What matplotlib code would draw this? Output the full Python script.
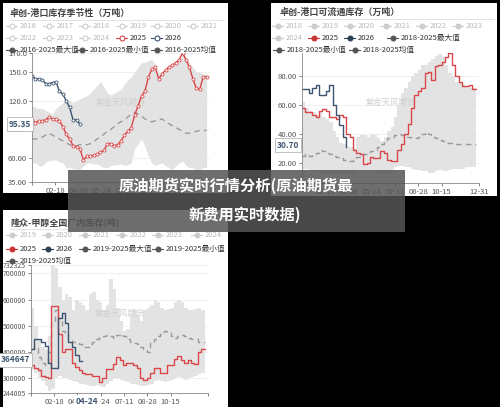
import numpy as np
import matplotlib.pyplot as plt
from matplotlib.patches import Rectangle

plt.rcParams['font.family'] = ['Noto Sans CJK SC', 'DejaVu Sans']

W, H = 500, 407
RED = '#d9474a'
NAVY = '#3d5570'
BAND = '#e3e3e3'
MEANC = '#9a9a9a'

# ---- panel 1: 港口库存 (万吨), weekly
p1_2025 = [100, 97, 99, 99, 100, 103, 101, 101, 99, 93, 85, 80, 73, 72, 70, 58, 62, 62, 63, 64, 66, 68, 75, 75,
           73, 74, 78, 84, 88, 92, 105, 115, 125, 130, 145, 153, 155, 143, 148, 152, 155, 157, 160, 163, 170, 163,
           155, 143, 133, 132, 145, 145]
p1_2026 = [146, 143, 143, 142, 138, 138, 139, 140, 130, 127, 120, 113, 100, 100, 95.35]
p1_max = [115, 113, 112, 112, 110, 108, 106, 112, 115, 118, 120, 120, 118, 120, 122, 124, 125, 128, 132, 136, 140,
          135, 128, 126, 128, 130, 132, 138, 142, 145, 150, 155, 160, 160, 162, 163, 158, 150, 148, 150, 153, 156,
          158, 160, 170, 165, 160, 155, 150, 150, 148, 148]
p1_min = [55, 55, 52, 52, 56, 57, 58, 58, 56, 55, 50, 50, 49, 48, 48, 52, 55, 55, 54, 54, 52, 50, 50, 52, 53, 53,
          54, 52, 53, 55, 70, 75, 80, 72, 62, 55, 52, 54, 55, 52, 50, 48, 52, 55, 57, 52, 50, 50, 48, 48, 50, 50]
p1_mean = [80, 80, 80, 82, 84, 86, 84, 82, 80, 78, 76, 74, 73, 73, 74, 74, 74, 75, 77, 80, 82, 85, 88, 90, 93, 96,
           98, 100, 103, 106, 108, 106, 104, 101, 99, 98, 99, 100, 101, 98, 96, 94, 92, 90, 88, 86, 86, 87, 88, 89,
           89, 89]

# ---- panel 2: 港口可流通库存 (万吨), weekly steps
p2_2025 = [58, 55, 55, 53, 52, 56, 57, 56, 52, 52, 50, 53, 52, 40, 38, 29, 27, 26, 19, 20, 24, 23, 23, 28, 27, 22,
           21, 21, 29, 33, 40, 47, 58, 67, 70, 72, 82, 83, 77, 87, 88, 90, 93, 96, 88, 80, 76, 73, 73, 74, 71, 71]
p2_2026 = [71, 71, 68, 72, 74, 67, 67, 70, 74, 60, 53, 46, 38, 30.70]
p2_max = [62, 58, 56, 55, 53, 55, 52, 50, 48, 42, 38, 34, 33, 31, 31, 30, 38, 39, 39, 38, 40, 39, 37, 35, 38, 42,
          45, 52, 60, 68, 72, 76, 80, 82, 84, 88, 88, 90, 92, 94, 95, 93, 88, 82, 80, 76, 75, 74, 73, 72, 72, 72]
p2_min = [16, 16, 15, 14, 14, 13, 12, 12, 12, 12, 12, 12, 12, 13, 12, 12, 14, 15, 15, 15, 14, 14, 13, 12, 12, 13,
          15, 17, 18, 18, 17, 17, 16, 15, 15, 14, 14, 13, 13, 14, 15, 14, 14, 15, 16, 16, 16, 16, 17, 17, 17, 17]
p2_mean = [25, 26, 25, 26, 27, 29, 28, 27, 26, 25, 24, 23, 22, 21, 21, 22, 24, 25, 26, 27, 28, 29, 31, 33, 35, 37,
           38, 39, 40, 39, 38, 38, 37, 37, 38, 40, 41, 40, 38, 37, 36, 35, 34, 34, 34, 33, 33, 33, 33, 33, 33, 33]

# ---- panel 3: 甲醇全国厂内库存 (千吨), weekly steps
p3_2025 = [350, 340, 330, 310, 305, 300, 575, 575, 470, 400, 410, 410, 360, 345, 330, 320, 315, 315, 310, 310,
           285, 300, 335, 335, 355, 380, 370, 350, 360, 360, 350, 340, 300, 295, 300, 320, 340, 340, 320, 320, 350,
           350, 375, 385, 370, 360, 370, 360, 355, 400, 410, 410]
p3_2026 = [410, 450, 450, 440, 425, 360, 340, 340, 530, 550, 510, 440, 420, 390, 365, 364.647]
p3_max = [570, 500, 450, 420, 410, 460, 740, 720, 650, 600, 620, 610, 560, 600, 590, 580, 560, 620, 630, 600, 590,
          560, 580, 680, 640, 570, 520, 480, 490, 540, 560, 540, 520, 560, 570, 580, 600, 590, 570, 560, 565, 570,
          590, 600, 590, 570, 560, 560, 565, 570, 560, 560]
p3_min = [330, 320, 300, 290, 270, 250, 260, 300, 310, 300, 300, 295, 290, 285, 280, 280, 275, 270, 270, 275, 270,
          265, 280, 290, 300, 300, 295, 290, 285, 280, 280, 275, 270, 270, 275, 280, 290, 295, 290, 285, 290, 295,
          300, 305, 300, 295, 300, 305, 310, 315, 320, 320]
p3_mean = [410, 420, 380, 360, 350, 400, 520, 560, 530, 480, 470, 450, 440, 440, 430, 420, 420, 430, 440, 450,
           460, 460, 465, 460, 455, 465, 470, 460, 450, 440, 435, 430, 420, 410, 400, 440, 450, 460, 470, 480, 475,
           460, 455, 460, 465, 460, 455, 450, 450, 440, 440, 440]

tick_days = [1, 49, 96, 144, 192, 240, 288, 365]
tick_labels = ['', '02-18', '04-06', '05-24', '07-11', '08-28', '10-15', '12-31']


def days(n):
    return np.arange(n) * 7 + 1


def rect(x, y, w, h):
    return [x / W, 1 - (y + h) / H, w / W, h / H]


def ftxt(x, y, s, **kw):
    fig.text(x / W, 1 - y / H, s, **kw)


def legend_row(items, y):
    for x, label, color, filled in items:
        ax0 = fig.add_axes(rect(x - 6, y - 3, 12, 6))
        ax0.set_axis_off()
        ax0.set_xlim(-1, 1)
        ax0.set_ylim(-1, 1)
        ax0.plot([-1, 1], [0, 0], color=color, lw=0.8)
        ax0.plot([0], [0], marker='o', ms=3.5, color=color,
                 mfc=color if filled else 'white', mew=0.8)
        ftxt(x + 8, y, label, fontsize=5.5, va='center', color='#bbbbbb' if color == '#cccccc' else '#333333')


fig = plt.figure(figsize=(W / 100, H / 100), dpi=100, facecolor='black')

# white panels
for x, y, w, h in [(3, 3, 225, 190), (271, 3, 226, 193), (3, 210, 225, 197)]:
    fig.patches.append(Rectangle((x / W, 1 - (y + h) / H), w / W, h / H, transform=fig.transFigure,
                                 facecolor='white', edgecolor='none', zorder=-5))


def panel(r, ylim, yticks, yfmt, s2025, s2026, smax, smin, smean, steps, markers, labels):
    ax = fig.add_axes(rect(*r))
    ax.set_facecolor('white')
    ds = 'steps-post' if steps else 'default'
    n = len(smax)
    ax.fill_between(days(n), smin, smax, color=BAND, lw=0, step='post' if steps else None)
    ax.plot(days(len(smean)), smean, color=MEANC, ls=(0, (4, 3)), lw=1.0, drawstyle=ds)
    mk = dict(marker='o', ms=2.2, mfc='white', mew=0.6) if markers else {}
    ax.plot(days(len(s2025)), s2025, color=RED, lw=1.0, drawstyle=ds, **mk)
    ax.plot(days(len(s2026)), s2026, color=NAVY, lw=1.0, drawstyle=ds, **mk)
    ax.set_xlim(1, 365)
    ax.set_ylim(*ylim)
    ax.set_yticks(yticks)
    ax.set_yticklabels([yfmt(v) for v in yticks])
    ax.set_xticks(tick_days)
    ax.set_xticklabels(labels)
    ax.tick_params(labelsize=5.5, colors='#555555', length=2, width=0.5, pad=1.5)
    ax.grid(axis='y', color='#eeeeee', lw=0.6)
    ax.set_axisbelow(True)
    for s in ['top', 'right']:
        ax.spines[s].set_visible(False)
    for s in ['left', 'bottom']:
        ax.spines[s].set_color('#888888')
        ax.spines[s].set_linewidth(0.6)
    ax.text(0.5, 0.6, '紫金天风期货', transform=ax.transAxes, ha='center', fontsize=6,
            color='#cfcfcf', zorder=1)
    return ax


ax1 = panel((32, 53, 178, 129), (35, 170), [35, 60, 90, 120, 150, 170],
            lambda v: '%.1f' % v if v >= 100 else '%.2f' % v,
            p1_2025, p1_2026, p1_max, p1_min, p1_mean, False, True, tick_labels[:-1] + [''])
ax2 = panel((302, 53, 177, 130), (6, 96), [20, 40, 60, 80],
            lambda v: '%.2f' % v,
            p2_2025, p2_2026, p2_max, p2_min, p2_mean, True, False, tick_labels)
ax3 = panel((31, 265, 177, 128), (244.005, 732.325), [244.005, 300, 400, 500, 600, 700, 732.325],
            lambda v: '%d' % round(v * 1000),
            p3_2025, p3_2026, p3_max, p3_min, p3_mean, True, False, tick_labels[:-1] + [''])
ax3.tick_params(axis='y', labelsize=5)

# titles
for x, y, s, x2 in [(10, 13, '卓创-港口库存季节性（万吨）', 224),
                    (280, 12, '卓创-港口可流通库存（万吨）', 494),
                    (10, 222, '隆众-甲醇全国厂内库存(吨)', 224)]:
    ftxt(x, y, s, fontsize=6.5, fontweight='bold', color='#444444', va='center')
    fig.add_artist(plt.Line2D([x / W, x2 / W], [1 - (y + 7) / H] * 2, color='#dddddd', lw=0.6))

G = '#cccccc'
D = '#555555'
yrs = ['2016', '2017', '2018', '2019', '2020', '2021']
legend_row([(x, l, G, False) for x, l in zip([12, 49, 85, 122, 157, 193], yrs)], 26)
legend_row([(12, '2022', G, False), (49, '2023', G, False), (85, '2024', G, False),
            (122, '2025', RED, False), (157, '2026', NAVY, False)], 38)
legend_row([(12, '2016-2025最大值', D, True), (82, '2016-2025最小值', D, True),
            (157, '2016-2025均值', D, True)], 50)

legend_row([(x, l, G, True) for x, l in zip([278, 314, 350, 386, 422, 458],
                                             ['2018', '2019', '2020', '2021', '2022', '2023'])], 26)
legend_row([(278, '2024', G, True), (314, '2025', '#cc3333', True), (350, '2026', '#2b3f55', True),
            (393, '2018-2025最大值', D, True)], 38)
legend_row([(279, '2018-2025最小值', D, True), (355, '2018-2025均值', D, True)], 50)

legend_row([(x, l, G, True) for x, l in zip([12, 48, 85, 122, 158, 197],
                                             ['2019', '2020', '2021', '2022', '2023', '2024'])], 235)
legend_row([(12, '2025', '#cc3333', True), (48, '2026', '#2b3f55', True),
            (85, '2019-2025最大值', D, True), (158, '2019-2025最小值', D, True)], 249)
legend_row([(12, '2019-2025均值', D, True)], 261)

# value tags
box = dict(boxstyle='square,pad=0.25', fc='white', ec='#aaaaaa', lw=0.5)
ftxt(20, 124, '95.35', fontsize=6, fontweight='bold', color=NAVY, ha='center', va='center', bbox=box)
ftxt(288, 145, '30.70', fontsize=6, fontweight='bold', color=NAVY, ha='center', va='center', bbox=box)
ftxt(15, 360, '364647', fontsize=6, fontweight='bold', color=NAVY, ha='center', va='center', bbox=box)
ftxt(87, 401, '04-24', fontsize=6, fontweight='bold', color=NAVY, ha='center', va='center',
     bbox=dict(boxstyle='square,pad=0.2', fc='white', ec='none'))

# overlay title band
fig.patches.append(Rectangle((68 / W, 1 - 232 / H), 337 / W, 62 / H, transform=fig.transFigure,
                             facecolor='#555555', alpha=0.85, edgecolor='none', zorder=5))
ftxt(236, 186, '原油期货实时行情分析(原油期货最', fontsize=11, fontweight='bold', color='white',
     ha='center', va='center', zorder=6)
ftxt(245, 215, '新费用实时数据)', fontsize=11, fontweight='bold', color='white',
     ha='center', va='center', zorder=6)

fig.savefig('out.png', dpi=100, facecolor='black')
